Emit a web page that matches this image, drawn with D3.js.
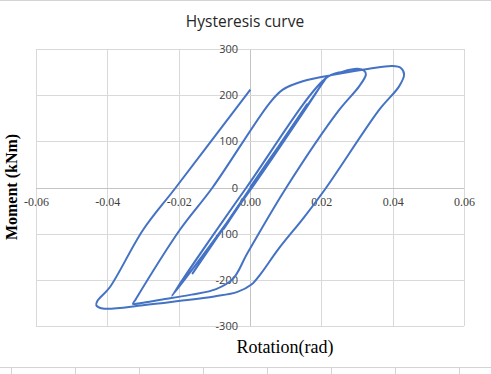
<!DOCTYPE html>
<html>
<head>
<meta charset="utf-8">
<script src="https://cdn.jsdelivr.net/npm/d3@7"></script>
<style>
  body { margin: 0; background: #fff; }
  svg { display: block; }
</style>
</head>
<body>
<div id="chart"></div>
<script>
var rotation = [
  0, 0.0100, -0.0074, 0.0160, -0.0161, 0.0213, 0.0006, -0.0219,
  -0.0010, 0.0213, 0.0260, 0.0302, 0.0320, 0.0325, 0.0306, 0.0250, 0.0102, -0.0007, -0.0048, -0.0095,
  -0.0164, -0.0250, -0.0305, -0.0328, -0.0322, -0.0197, -0.0105, 0.0055, 0.0092, 0.0148, 0.0241, 0.0334,
  0.0399, 0.0423, 0.0432, 0.0418, 0.0362, 0.0214, 0.0152, 0.0078, 0.0030, 0.0004, -0.0035, -0.0100,
  -0.0200, -0.0300, -0.0413, -0.0431, -0.0428, -0.0393, -0.0300, -0.0208, 0.0001
];
var moment = [
  0, 112, -90, 180, -186, 237, 0, -235,
  0, 237, 251, 257, 253, 245, 219, 168, 0, -142, -198, -220,
  -232, -243, -250, -252, -244, -92, 0, 183, 212, 230, 245, 257,
  263, 259, 245, 219, 168, 0, -64, -135, -187, -210, -226, -236,
  -246, -255, -262, -255, -246, -216, -92, 0, 212
];
var xTicks = [-0.06, -0.04, -0.02, 0, 0.02, 0.04, 0.06];
var yTicks = [-300, -200, -100, 0, 100, 200, 300];

var width = 491, height = 374;
var svg = d3.select("#chart").append("svg")
  .attr("width", width)
  .attr("height", height);

var x = d3.scaleLinear().domain([-0.06, 0.06]).range([36, 464]);
var y = d3.scaleLinear().domain([-300, 300]).range([326, 49]);

/* sheet lines round the chart */
svg.append("line")
  .attr("x1", 0).attr("x2", width).attr("y1", 0.5).attr("y2", 0.5)
  .style("stroke", "#d4d4d4");
svg.append("line")
  .attr("x1", 0).attr("x2", width).attr("y1", 367.5).attr("y2", 367.5)
  .style("stroke", "#d4d4d4");
svg.selectAll("line.cell")
  .data(d3.range(11.5, width, 64))
  .enter().append("line")
  .attr("class", "cell")
  .attr("x1", function(d) { return d; }).attr("x2", function(d) { return d; })
  .attr("y1", 367.5).attr("y2", height)
  .style("stroke", "#d4d4d4");

/* title */
svg.append("text")
  .attr("x", 245).attr("y", 27)
  .attr("text-anchor", "middle")
  .style("font-family", "'Open Sans', sans-serif")
  .style("font-size", "15.5px")
  .style("fill", "#262626")
  .text("Hysteresis curve");

/* gridlines */
var grid = svg.append("g").attr("class", "grid");
grid.selectAll("line.v")
  .data(xTicks)
  .enter().append("line")
  .attr("class", "v")
  .attr("x1", function(d) { return Math.round(x(d)) + 0.5; })
  .attr("x2", function(d) { return Math.round(x(d)) + 0.5; })
  .attr("y1", y(300)).attr("y2", y(-300))
  .style("stroke", function(d) { return d === 0 ? "#c4c4c4" : "#d9d9d9"; });
grid.selectAll("line.h")
  .data(yTicks)
  .enter().append("line")
  .attr("class", "h")
  .attr("y1", function(d) { return Math.round(y(d)) + 0.5; })
  .attr("y2", function(d) { return Math.round(y(d)) + 0.5; })
  .attr("x1", x(-0.06)).attr("x2", x(0.06))
  .style("stroke", function(d) { return d === 0 ? "#c4c4c4" : "#d9d9d9"; });

/* axes */
var xAxis = svg.append("g")
  .attr("transform", "translate(0," + y(0) + ")")
  .call(d3.axisBottom(x).tickValues(xTicks).tickSize(0).tickPadding(10)
    .tickFormat(function(d) { return d.toFixed(2); }));
xAxis.select(".domain").remove();
xAxis.selectAll("text")
  .style("font-family", "'Liberation Serif', 'Times New Roman', serif")
  .style("font-size", "12px")
  .style("fill", "#404040");

var yAxis = svg.append("g")
  .attr("transform", "translate(" + x(0) + ",0)")
  .call(d3.axisLeft(y).tickValues(yTicks).tickSize(0).tickPadding(12)
    .tickFormat(function(d) { return String(d); }));
yAxis.select(".domain").remove();
yAxis.selectAll("text")
  .style("font-family", "'Open Sans', sans-serif")
  .style("font-size", "11px")
  .style("fill", "#404040");

/* axis titles */
svg.append("text")
  .attr("transform", "translate(17,187) rotate(-90)")
  .attr("text-anchor", "middle")
  .style("font-family", "'Liberation Serif', 'Times New Roman', serif")
  .style("font-weight", "bold")
  .style("font-size", "16px")
  .style("fill", "#000")
  .text("Moment (kNm)");
svg.append("text")
  .attr("x", 285).attr("y", 353)
  .attr("text-anchor", "middle")
  .style("font-family", "'Liberation Serif', 'Times New Roman', serif")
  .style("font-size", "18px")
  .style("fill", "#000")
  .text("Rotation(rad)");

/* hysteresis curve */
var points = rotation.map(function(r, i) { return [r, moment[i]]; });
var line = d3.line()
  .x(function(d) { return x(d[0]); })
  .y(function(d) { return y(d[1]); })
  .curve(d3.curveCatmullRom.alpha(0.5));

svg.append("path")
  .datum(points)
  .attr("d", line)
  .style("fill", "none")
  .style("stroke", "#4472c4")
  .style("stroke-width", 2)
  .style("stroke-linejoin", "round");
</script>
</body>
</html>
